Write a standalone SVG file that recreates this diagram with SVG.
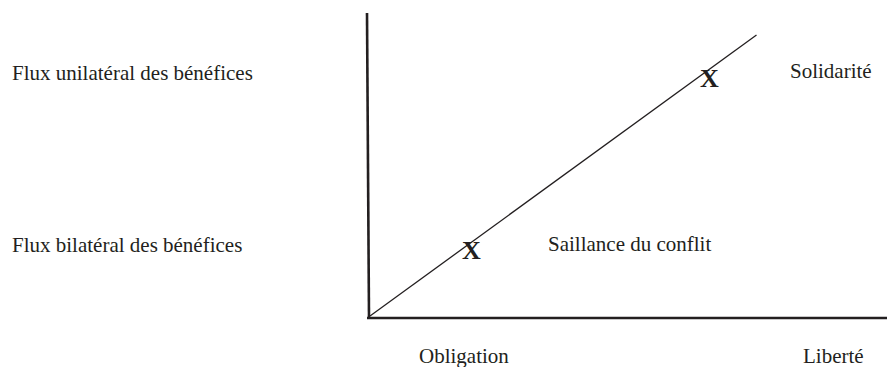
<svg xmlns="http://www.w3.org/2000/svg" width="887" height="367" viewBox="0 0 887 367">
<style>
text{font-family:'Liberation Serif',serif}
.t{font-size:21px;fill:#231f20}
.x{font-size:26px;font-weight:bold;fill:#231f20}
.axis{stroke:#231f20;stroke-width:2.6;fill:none}
.diag{stroke:#231f20;stroke-width:1.3;fill:none}
</style>
<rect width="887" height="367" fill="#fff"/>
<g id="connectors">
<line class="axis" x1="367" y1="13" x2="369" y2="318"/>
<line class="axis" x1="367" y1="318" x2="887" y2="318"/>
<line class="diag" x1="370" y1="316" x2="756.5" y2="35"/>
</g>
<g id="label-unilateral"><text class="t" font-family="Liberation Serif" x="12" y="79.5">Flux unilatéral des bénéfices</text></g>
<g id="label-bilateral"><text class="t" font-family="Liberation Serif" x="12" y="251.5">Flux bilatéral des bénéfices</text></g>
<g id="label-solidarite"><text class="t" font-family="Liberation Serif" x="790" y="78">Solidarité</text></g>
<g id="label-saillance"><text class="t" font-family="Liberation Serif" x="548" y="250.5">Saillance du conflit</text></g>
<g id="label-obligation"><text class="t" font-family="Liberation Serif" x="419" y="363">Obligation</text></g>
<g id="label-liberte"><text class="t" font-family="Liberation Serif" x="803" y="363">Liberté</text></g>
<g id="mark-upper"><text class="x" font-family="Liberation Serif" x="700" y="87">X</text></g>
<g id="mark-lower"><text class="x" font-family="Liberation Serif" x="462" y="259">X</text></g>
</svg>
